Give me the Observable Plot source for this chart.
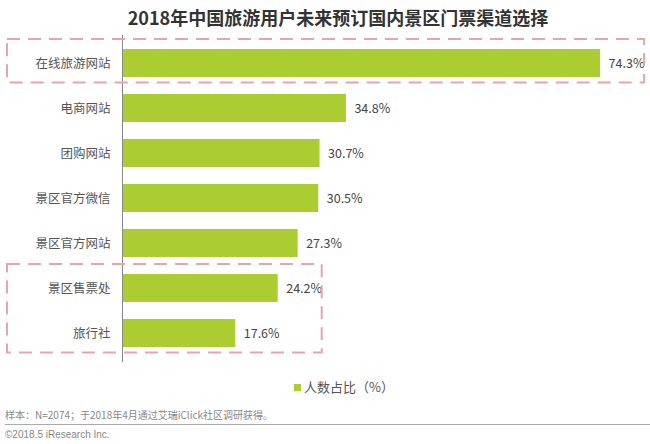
<!DOCTYPE html>
<html>
<head>
<meta charset="utf-8">
<script src="https://cdn.jsdelivr.net/npm/d3@7"></script>
<script src="https://cdn.jsdelivr.net/npm/@observablehq/plot@0.6"></script>
<style>
  html, body { margin: 0; padding: 0; background: #fff; }
  body { width: 650px; height: 444px; position: relative; overflow: hidden;
         font-family: "Noto Sans CJK SC", "Noto Sans", sans-serif; }
  #title { position: absolute; left: 0; top: 0; width: 676px; height: 34px; line-height: 34px;
           text-align: center; font-size: 18px; font-weight: bold; color: #333; }
  #chart { position: absolute; left: 0; top: 35px; }
  #legend { position: absolute; left: 294px; top: 378px; height: 18px; line-height: 18px;
            font-size: 13px; color: #555; white-space: nowrap; }
  #legend .sw { display: inline-block; width: 7px; height: 7px; margin-right: 3px; vertical-align: 1px; }
  #note { position: absolute; left: 5px; top: 407px; font-size: 10px; line-height: 15px; color: #888; white-space: nowrap; }
  #rule { position: absolute; left: 5px; right: 0; top: 424px; height: 0; border-top: 1.5px solid #aaa; }
  #copy { position: absolute; left: 5px; top: 428px; font-size: 10px; line-height: 14px; color: #888;
          font-family: "Liberation Sans", Arial, sans-serif; white-space: nowrap; }
</style>
</head>
<body>
<div id="title"></div>
<div id="chart"></div>
<div id="legend"></div>
<div id="note"></div>
<div id="rule"></div>
<div id="copy"></div>
<script>
const titleText = "2018年中国旅游用户未来预订国内景区门票渠道选择";
const categories = ["在线旅游网站", "电商网站", "团购网站", "景区官方微信", "景区官方网站", "景区售票处", "旅行社"];
const values = [74.3, 34.8, 30.7, 30.5, 27.3, 24.2, 17.6];
const seriesName = "人数占比（%）";
const highlightGroups = [["在线旅游网站"], ["景区售票处", "旅行社"]];
const noteText = "样本：N=2074；于2018年4月通过艾瑞iClick社区调研获得。";
const copyText = "©2018.5 iResearch Inc.";

const barColor = "#abcd32";
const data = categories.map((c, i) => ({category: c, value: values[i]}));

document.getElementById("title").textContent = titleText;

const plot = Plot.plot({
  width: 650,
  height: 337,
  marginLeft: 122,
  marginRight: 10,
  marginTop: 0,
  marginBottom: 10,
  style: {fontFamily: "'Noto Sans CJK SC', sans-serif", fontSize: "12.5px", color: "#555", background: "transparent"},
  x: {domain: [0, 80.5], axis: null},
  y: {domain: categories, paddingInner: 0.367, paddingOuter: 0.25, label: null, axis: null},
  marks: [
    Plot.barX(data, {x: "value", y: "category", fill: barColor}),
    Plot.ruleX([0], {stroke: "#888", strokeWidth: 1}),
    Plot.text(data, {x: "value", y: "category", text: d => d.value.toFixed(1) + "%", dx: 8,
      textAnchor: "start", fill: "#444", fontSize: 12.5}),
    Plot.axisY({tickSize: 0, tickPadding: 12, fontSize: 12.5, fill: "#555", label: null})
  ]
});
document.getElementById("chart").appendChild(plot);

// dashed highlight boxes, positioned via the plot's own scales
const ys = plot.scale("y");
const xs = plot.scale("x");
const svg = d3.select(plot);
const g = svg.append("g");
highlightGroups.forEach(grp => {
  const top = ys.apply(grp[0]) - 10;
  const bottom = ys.apply(grp[grp.length - 1]) + ys.bandwidth + 5.5;
  const maxV = d3.max(grp, c => values[categories.indexOf(c)]);
  const right = xs.apply(maxV) + 44;
  const left = 7;
  g.append("rect")
    .attr("x", left).attr("y", top)
    .attr("width", right - left).attr("height", bottom - top)
    .attr("fill", "none")
    .attr("stroke", "#e8a3ab")
    .attr("stroke-width", 2)
    .attr("stroke-dasharray", "13,8");
});

const leg = document.getElementById("legend");
const sw = document.createElement("span");
sw.className = "sw";
sw.style.background = barColor;
leg.appendChild(sw);
leg.appendChild(document.createTextNode(seriesName));

document.getElementById("note").textContent = noteText;
document.getElementById("copy").textContent = copyText;
</script>
</body>
</html>
